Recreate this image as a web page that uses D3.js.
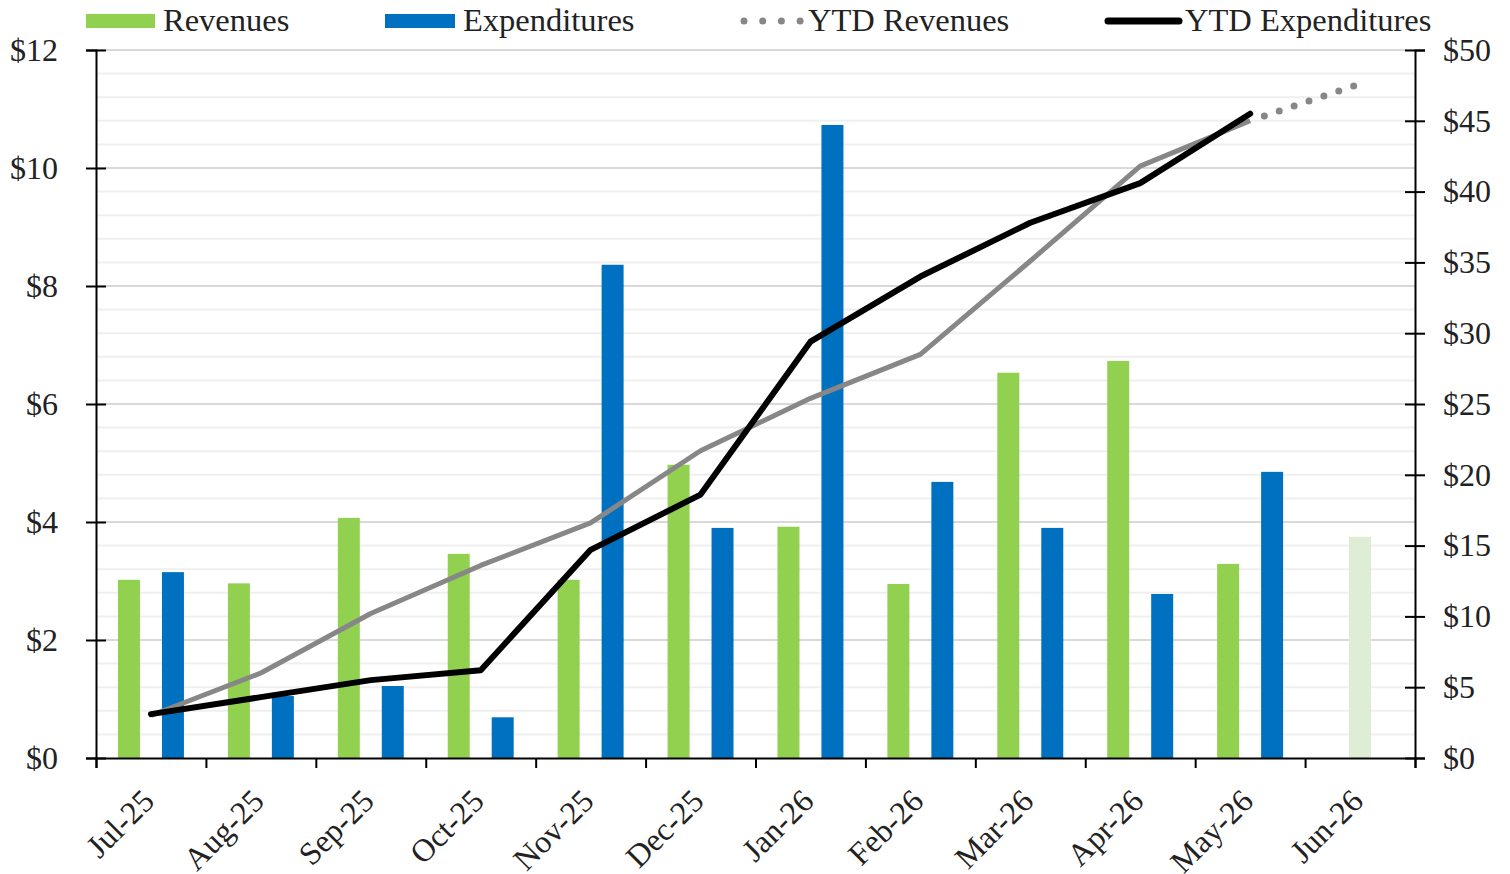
<!DOCTYPE html>
<html>
<head>
<meta charset="utf-8">
<script src="https://cdn.jsdelivr.net/npm/d3@7"></script>
<style>
  html, body { margin: 0; padding: 0; background: #fff; }
  svg text { font-family: "Liberation Serif", "Times New Roman", serif; fill: #222; }
</style>
</head>
<body>
<svg id="chart" width="1510" height="874"></svg>
<script>
// --- data ---
const months = ["Jul-25", "Aug-25", "Sep-25", "Oct-25", "Nov-25", "Dec-25",
                "Jan-26", "Feb-26", "Mar-26", "Apr-26", "May-26", "Jun-26"];
const revenues = [3.02, 2.96, 4.07, 3.46, 3.02, 4.97, 3.92, 2.95, 6.53, 6.73, 3.29, 3.75];
const expenditures = [3.15, 1.05, 1.22, 0.69, 8.36, 3.90, 10.73, 4.68, 3.90, 2.78, 4.85, null];
const ytdRevenues = [3.0, 6.0, 10.2, 13.6, 16.6, 21.7, 25.4, 28.5, 35.1, 41.8, 45.0, 47.6];
const ytdExpenditures = [3.1, 4.3, 5.5, 6.2, 14.7, 18.6, 29.4, 34.0, 37.8, 40.6, 45.5];
const projectedMonth = "Jun-26"; // budget projection, drawn faded
const leftTicks = [0, 2, 4, 6, 8, 10, 12];
const rightTicks = [0, 5, 10, 15, 20, 25, 30, 35, 40, 45, 50];

const GREEN = "#92d050", GREEN_LIGHT = "#deedd3", BLUE = "#0070c0", GRAY = "#878787";

const width = 1510, height = 874;
const margin = { top: 50, right: 95, bottom: 116, left: 96 };
const innerW = width - margin.left - margin.right;
const innerH = height - margin.top - margin.bottom;

const svg = d3.select("#chart");
const g = svg.append("g").attr("transform", `translate(${margin.left},${margin.top})`);

const x = d3.scaleBand().domain(months).range([0, innerW]).padding(0);
const xs = d3.scaleBand().domain(["rev", "exp"]).range([0, x.bandwidth()]).padding(0.5);
const yL = d3.scaleLinear().domain([0, 12]).range([innerH, 0]);
const yR = d3.scaleLinear().domain([0, 50]).range([innerH, 0]);

// gridlines: minor every $0.4, major at labelled ticks
const minor = d3.range(0, 12.01, 0.4).filter(v => Math.abs(v / 2 - Math.round(v / 2)) > 0.01);
g.append("g").selectAll("line").data(minor).join("line")
  .attr("x1", 0).attr("x2", innerW)
  .attr("y1", d => yL(d)).attr("y2", d => yL(d))
  .attr("stroke", "#efefef").attr("stroke-width", 2);
g.append("g").selectAll("line").data(leftTicks.slice(1)).join("line")
  .attr("x1", 0).attr("x2", innerW)
  .attr("y1", d => yL(d)).attr("y2", d => yL(d))
  .attr("stroke", "#d9d9d9").attr("stroke-width", 2);

// bars
g.append("g").selectAll("rect").data(months).join("rect")
  .attr("x", (m) => m === projectedMonth
    ? x(m) + (x.bandwidth() - xs.bandwidth()) / 2
    : x(m) + xs("rev"))
  .attr("y", (m, i) => yL(revenues[i]))
  .attr("width", xs.bandwidth())
  .attr("height", (m, i) => innerH - yL(revenues[i]))
  .attr("fill", m => m === projectedMonth ? GREEN_LIGHT : GREEN);

g.append("g").selectAll("rect").data(months.filter((m, i) => expenditures[i] != null)).join("rect")
  .attr("x", m => x(m) + xs("exp"))
  .attr("y", (m, i) => yL(expenditures[i]))
  .attr("width", xs.bandwidth())
  .attr("height", (m, i) => innerH - yL(expenditures[i]))
  .attr("fill", BLUE);

// YTD lines
const cx = m => x(m) + x.bandwidth() / 2;
const line = d3.line().x(d => cx(d[0])).y(d => yR(d[1]));
const revPts = ytdRevenues.map((v, i) => [months[i], v]);
const expPts = ytdExpenditures.map((v, i) => [months[i], v]);
const actual = ytdExpenditures.length;

g.append("path")
  .attr("d", line(revPts.slice(0, actual)))
  .attr("fill", "none").attr("stroke", GRAY).attr("stroke-width", 5)
  .attr("stroke-linejoin", "round");
g.append("path")
  .attr("d", line(revPts.slice(actual - 1)))
  .attr("fill", "none").attr("stroke", GRAY).attr("stroke-width", 7)
  .attr("stroke-linecap", "round").attr("stroke-dasharray", "0 15.7")
  .attr("stroke-dashoffset", -15);
g.append("path")
  .attr("d", line(expPts))
  .attr("fill", "none").attr("stroke", "#000").attr("stroke-width", 6)
  .attr("stroke-linejoin", "round").attr("stroke-linecap", "round");

// axes
const styleAxis = sel => {
  sel.select(".domain").attr("stroke", "#000").attr("stroke-width", 2);
  sel.selectAll(".tick line").attr("stroke", "#000").attr("stroke-width", 2);
  sel.selectAll("text").style("font-size", "32px").attr("fill", "#222")
    .style("font-family", "'Liberation Serif', serif");
};

const leftAxis = g.append("g")
  .call(d3.axisLeft(yL).tickValues(leftTicks).tickFormat(d => "$" + d).tickSizeOuter(0).tickSize(10))
  .call(styleAxis);
leftAxis.selectAll(".tick line").attr("x1", -10).attr("x2", 10);
leftAxis.selectAll(".tick text").attr("x", -38).attr("dy", "0.32em");

const rightAxis = g.append("g").attr("transform", `translate(${innerW},0)`)
  .call(d3.axisRight(yR).tickValues(rightTicks).tickFormat(d => "$" + d).tickSizeOuter(0).tickSize(10))
  .call(styleAxis);
rightAxis.selectAll(".tick line").attr("x1", -10).attr("x2", 10);
rightAxis.selectAll(".tick text").attr("x", 28).attr("dy", "0.32em");

// x axis: boundary ticks + rotated month labels
const xb = d3.scaleLinear().domain([0, months.length]).range([0, innerW]);
g.append("g").attr("transform", `translate(0,${innerH})`)
  .call(d3.axisBottom(xb).tickValues(d3.range(0, months.length + 1)).tickFormat("").tickSizeOuter(0).tickSize(10))
  .call(styleAxis);

g.append("g").attr("transform", `translate(0,${innerH})`)
  .call(d3.axisBottom(x).tickSize(0).tickPadding(0))
  .call(sel => sel.select(".domain").remove())
  .selectAll(".tick text")
  .style("font-size", "32px").style("font-family", "'Liberation Serif', serif").attr("fill", "#222")
  .attr("text-anchor", "end")
  .attr("y", 0).attr("dy", 0)
  .attr("transform", "translate(5,45) rotate(-45)");

// legend
const legend = svg.append("g");
const legendY = 31;
legend.append("rect").attr("x", 86).attr("y", 14).attr("width", 69).attr("height", 14).attr("fill", GREEN);
legend.append("text").attr("x", 163).attr("y", legendY).style("font-size", "32.5px").text("Revenues");
legend.append("rect").attr("x", 385).attr("y", 14).attr("width", 70).attr("height", 14).attr("fill", BLUE);
legend.append("text").attr("x", 463).attr("y", legendY).style("font-size", "32.5px").text("Expenditures");
legend.append("line").attr("x1", 744).attr("x2", 803).attr("y1", 21).attr("y2", 21)
  .attr("stroke", GRAY).attr("stroke-width", 7).attr("stroke-linecap", "round").attr("stroke-dasharray", "0 18.7");
legend.append("text").attr("x", 808).attr("y", legendY).style("font-size", "32.5px").text("YTD Revenues");
legend.append("line").attr("x1", 1108).attr("x2", 1179).attr("y1", 21).attr("y2", 21)
  .attr("stroke", "#000").attr("stroke-width", 7).attr("stroke-linecap", "round");
legend.append("text").attr("x", 1185).attr("y", legendY).style("font-size", "32.5px").text("YTD Expenditures");
</script>
</body>
</html>
